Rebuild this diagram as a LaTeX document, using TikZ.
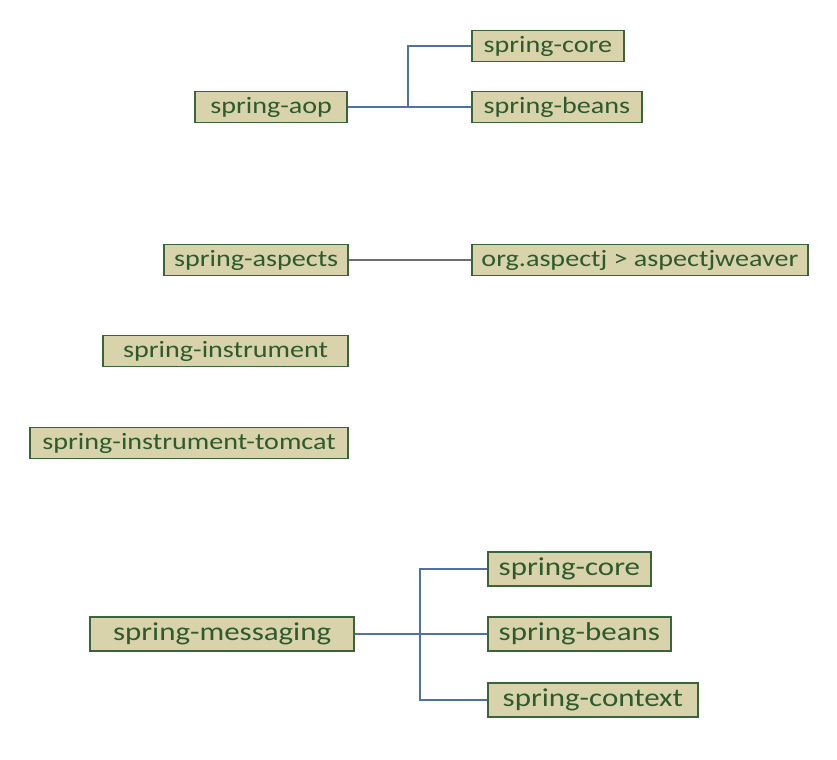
\documentclass[tikz,border=0pt]{standalone}
\usepackage{fontspec}
\setmainfont{Carlito}[FakeStretch=1.2]
\usepackage{tikz}
\usetikzlibrary{positioning,calc}
\definecolor{boxfill}{HTML}{D8D3AA}
\definecolor{boxline}{HTML}{3A653A}
\definecolor{boxtext}{HTML}{2E5A2E}
\definecolor{linkblue}{HTML}{5070AA}
\definecolor{linkgray}{HTML}{6E6E6E}

\begin{document}
\begin{tikzpicture}[x=0.03cm,y=-0.03cm,
    modbox/.style={fill=boxfill,draw=boxline,line width=1.5pt,text=boxtext,
        font=\fontsize{20}{24}\selectfont,inner xsep=4pt,inner ysep=0pt,
        minimum height=0.93cm},
    bigbox/.style={modbox,font=\fontsize{22}{26}\selectfont,minimum height=1.02cm},
    wd/.style={minimum width=#1*0.03cm},
    link/.style={draw=linkblue,line width=1.2pt},
    graylink/.style={draw=linkgray,line width=1.5pt}]

        \useasboundingbox (0,0) rectangle (837,760);

        % spring-aop
        \node[modbox,wd=152,anchor=east] (aop) at (348,107) {spring-aop};
        \node[modbox,wd=152,anchor=west] (core1) at (471,46) {spring-core};
        \node[modbox,wd=170,anchor=west] (beans1) at (471,107) {spring-beans};
        \coordinate (j1) at (408,107);

        % spring-aspects
        \node[modbox,wd=184,anchor=east] (aspects) at (349,260) {spring-aspects};
        \node[modbox,wd=336,anchor=west] (weaver) at (471,260) {org.aspectj > aspectjweaver};

        % spring-instrument
        \node[modbox,wd=245,anchor=east] (instr) at (349,351) {spring-instrument};
        \node[modbox,wd=318,anchor=east] (tomcat) at (349,443) {spring-instrument-tomcat};

        % spring-messaging
        \node[bigbox,wd=264,anchor=east] (msg) at (355,634) {spring-messaging};
        \node[bigbox,wd=163,anchor=west] (core2) at (487,569) {spring-core};
        \node[bigbox,wd=183,anchor=west] (beans2) at (487,634) {spring-beans};
        \node[bigbox,wd=210,anchor=west] (ctx) at (487,700) {spring-context};
        \coordinate (j2) at (420,634);

        \draw[link] (aop.east) -- (beans1.west);
        \draw[link] (j1) |- (core1.west);

        \draw[graylink] (aspects.east) -- (weaver.west);

        \draw[link] (msg.east) -- (beans2.west);
        \draw[link] (j2) |- (core2.west);
        \draw[link] (j2) |- (ctx.west);
    \end{tikzpicture}
\end{document}
